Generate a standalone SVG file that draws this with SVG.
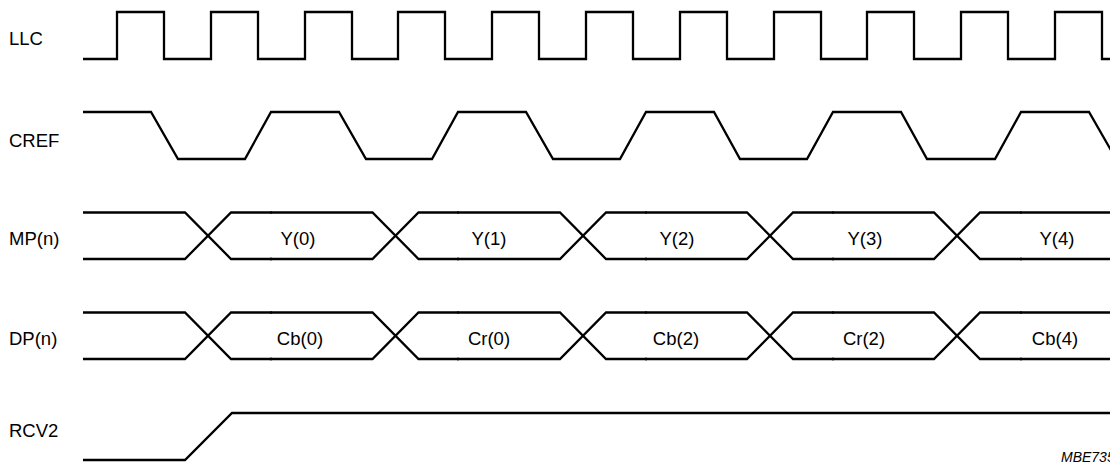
<svg xmlns="http://www.w3.org/2000/svg" width="1110" height="466" viewBox="0 0 1110 466">
<style>
.w{fill:none;stroke:#000;stroke-width:2.3;stroke-linejoin:miter}
.t{stroke:#000;stroke-width:1.2}
.lbl{font-family:"Liberation Sans",Arial,sans-serif;font-size:18.5px;fill:#000}
.bus{font-family:"Liberation Sans",Arial,sans-serif;font-size:18.5px;fill:#000;text-anchor:middle}
.id{font-family:"Liberation Sans",Arial,sans-serif;font-size:14px;font-style:italic;fill:#000}
</style>
<rect width="1110" height="466" fill="#fff"/>
<g id="LLC">
<text class="lbl" x="9" y="44.5">LLC</text>
<path class="w" d="M83,59 H117 V12 H164 V59 H211 V12 H258 V59 H305 V12 H352 V59 H398 V12 H445 V59 H492 V12 H539 V59 H586 V12 H633 V59 H680 V12 H727 V59 H774 V12 H821 V59 H867 V12 H914 V59 H961 V12 H1008 V59 H1055 V12 H1102 V59 H1112"/>
</g>
<g id="CREF">
<text class="lbl" x="9" y="146.5">CREF</text>
<path class="w" d="M83,112 H151 L178,159 H245 L271,112 H339 L366,159 H432 L458,112 H526 L553,159 H620 L646,112 H714 L740,159 H807 L833,112 H901 L927,159 H995 L1021,112 H1089 L1116,159"/>
</g>
<g id="MP">
<text class="lbl" x="9" y="244.5">MP(n)</text>
<path class="w" d="M83,212.5 H185 L231,259 H372.5 L418.5,212.5 H560 L606,259 H747 L793,212.5 H934 L980,259 H1112"/>
<path class="w" d="M83,259 H185 L231,212.5 H372.5 L418.5,259 H560 L606,212.5 H747 L793,259 H934 L980,212.5 H1112"/>
<path class="t" d="M271,211 v3 M271,257.5 v3 M458,211 v3 M458,257.5 v3 M646,211 v3 M646,257.5 v3 M833,211 v3 M833,257.5 v3 M1021,211 v3 M1021,257.5 v3"/>
<text class="bus" x="298" y="245">Y(0)</text>
<text class="bus" x="489" y="245">Y(1)</text>
<text class="bus" x="677" y="245">Y(2)</text>
<text class="bus" x="865" y="245">Y(3)</text>
<text class="bus" x="1057" y="245">Y(4)</text>
</g>
<g id="DP">
<text class="lbl" x="9" y="344.5">DP(n)</text>
<path class="w" d="M83,312.5 H185 L231,359 H372.5 L418.5,312.5 H560 L606,359 H747 L793,312.5 H934 L980,359 H1112"/>
<path class="w" d="M83,359 H185 L231,312.5 H372.5 L418.5,359 H560 L606,312.5 H747 L793,359 H934 L980,312.5 H1112"/>
<path class="t" d="M271,311 v3 M271,357.5 v3 M458,311 v3 M458,357.5 v3 M646,311 v3 M646,357.5 v3 M833,311 v3 M833,357.5 v3 M1021,311 v3 M1021,357.5 v3"/>
<text class="bus" x="300" y="345">Cb(0)</text>
<text class="bus" x="489" y="345">Cr(0)</text>
<text class="bus" x="676" y="345">Cb(2)</text>
<text class="bus" x="864" y="345">Cr(2)</text>
<text class="bus" x="1055" y="345">Cb(4)</text>
</g>
<g id="RCV2">
<text class="lbl" x="9" y="437">RCV2</text>
<path class="w" d="M83,460 H185 L232,413 H1112"/>
</g>
<text class="id" x="1061" y="462">MBE735</text>
</svg>
